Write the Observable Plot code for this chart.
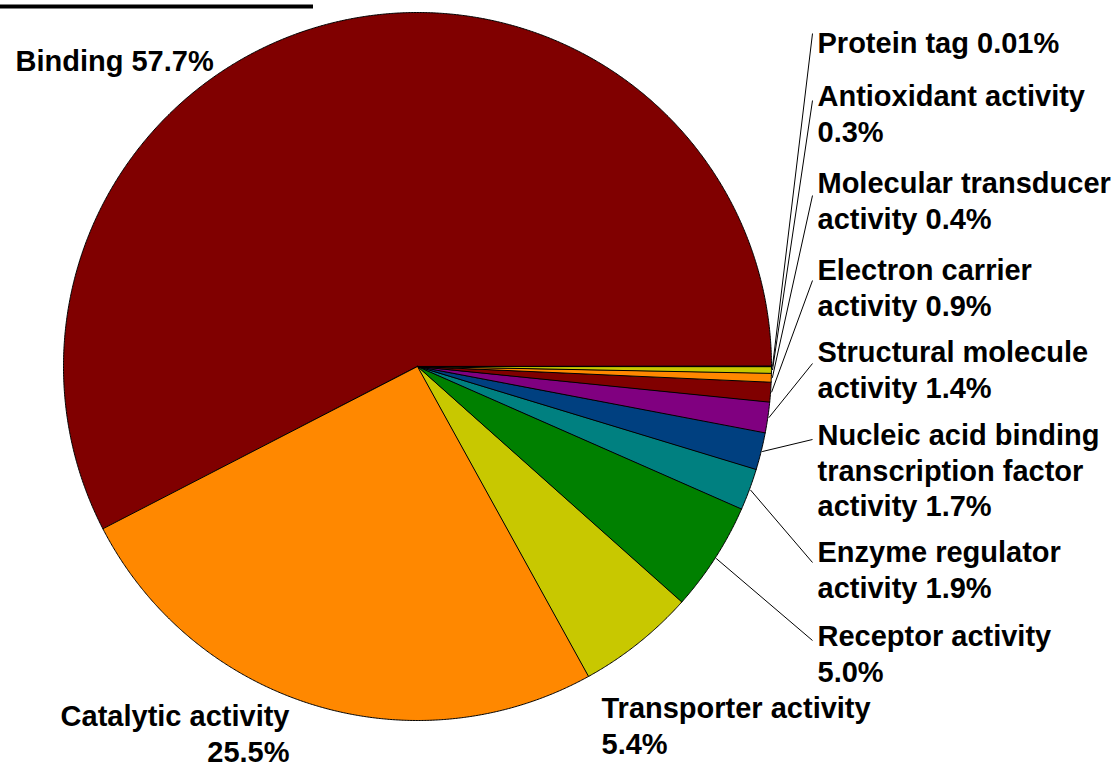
<!DOCTYPE html>
<html><head><meta charset="utf-8">
<script src="https://cdn.jsdelivr.net/npm/d3@7"></script>
<script src="https://cdn.jsdelivr.net/npm/@observablehq/plot@0.6"></script>
<style>body{margin:0;background:#fff}#chart svg{display:block}</style>
</head><body><div id="chart"></div>
<script>
// ---- data ----
const categories = ["Binding","Catalytic activity","Transporter activity","Receptor activity","Enzyme regulator activity","Nucleic acid binding transcription factor activity","Structural molecule activity","Electron carrier activity","Molecular transducer activity","Antioxidant activity","Protein tag"];
const percents = [57.7, 25.5, 5.4, 5.0, 1.9, 1.7, 1.4, 0.9, 0.4, 0.3, 0.01];
const labelLines = [
  ["Binding 57.7%"],
  ["Catalytic activity", "25.5%"],
  ["Transporter activity", "5.4%"],
  ["Receptor activity", "5.0%"],
  ["Enzyme regulator", "activity 1.9%"],
  ["Nucleic acid binding", "transcription factor", "activity 1.7%"],
  ["Structural molecule", "activity 1.4%"],
  ["Electron carrier", "activity 0.9%"],
  ["Molecular transducer", "activity 0.4%"],
  ["Antioxidant activity", "0.3%"],
  ["Protein tag 0.01%"]
];
const colors = ["#800000","#ff8800","#c8c800","#008000","#008080","#004080","#800080","#800000","#ff8800","#c8c800","#008000"];

// ---- layout ----
const W = 1119, H = 770;
const cx = 417, cy = 366, R = 354;
const fontSize = 29, lineH = 35.5;
// labels placed beside their slices (first-line centre)
const outsideLabels = {0: {x: 15, y: 61, anchor: "start"}, 1: {x: 289, y: 716, anchor: "end"}, 2: {x: 601, y: 708, anchor: "start"}};
// right-hand column, top to bottom: slice index, first-line centre, leader end offset
const columnOrder = [10, 9, 8, 7, 6, 5, 4, 3];
const columnFirstLine = [43, 96, 183, 270, 352, 435, 552, 636];
const leaderOffset = [-10, 4, 12, 10, 11, 4, 10, 4];
const columnX = 817, leaderX = 812;

const data = categories.map((c, i) => ({category: c, value: percents[i], color: colors[i], lines: labelLines[i], i}));
const arcs = d3.pie().sort(null).value(d => d.value)(data);

const pt = (theta, r) => [cx + r * Math.cos(theta), cy - r * Math.sin(theta)];

// slice polygons
const poly = [];
arcs.forEach(a => {
  const key = a.data.category;
  poly.push({key, color: a.data.color, x: cx, y: cy});
  const span = a.endAngle - a.startAngle;
  const n = Math.max(2, Math.ceil(span / (Math.PI / 720)));
  for (let k = 0; k <= n; k++) {
    const t = a.startAngle + span * k / n;
    const [x, y] = pt(t, R);
    poly.push({key, color: a.data.color, x, y});
  }
});

// label positions
const labels = [];
Object.entries(outsideLabels).forEach(([i, p]) => {
  labels.push({i: +i, x: p.x, y: p.y, anchor: p.anchor, text: data[i].lines.join("\n")});
});
columnOrder.forEach((i, k) => {
  labels.push({i, x: columnX, y: columnFirstLine[k], anchor: "start", text: data[i].lines.join("\n"), leader: true, off: leaderOffset[k]});
});

const leaders = labels.filter(l => l.leader).map(l => {
  const a = arcs[l.i];
  const [x1, y1] = pt((a.startAngle + a.endAngle) / 2, R + 1);
  return {x1, y1, x2: leaderX, y2: l.y + l.off};
});

const capTop = fontSize * 0.716 / 2 + 5;
const textOpts = anchor => ({x: "x", y: d => d.y - capTop, text: "text", textAnchor: anchor, lineAnchor: "top", lineHeight: lineH / fontSize,
  fontSize, fontWeight: "bold", fontFamily: "Liberation Sans, Arial, sans-serif", fill: "black"});

const chart = Plot.plot({
  width: W, height: H, margin: 0,
  x: {domain: [0, W], range: [0, W], axis: null},
  y: {domain: [0, H], range: [0, H], axis: null},
  color: {type: "identity"},
  marks: [
    Plot.ruleY([6], {x1: 0, x2: 313, stroke: "black", strokeWidth: 4}),
    Plot.line(poly, {x: "x", y: "y", z: "key", fill: "color", stroke: "black", strokeWidth: 1, curve: "linear-closed", strokeLinejoin: "round"}),
    Plot.link(leaders, {x1: "x1", y1: "y1", x2: "x2", y2: "y2", stroke: "black", strokeWidth: 1}),
    Plot.text(labels.filter(d => d.anchor === "start"), textOpts("start")),
    Plot.text(labels.filter(d => d.anchor === "end"), textOpts("end"))
  ]
});
document.getElementById("chart").appendChild(chart);
</script>
</body></html>
